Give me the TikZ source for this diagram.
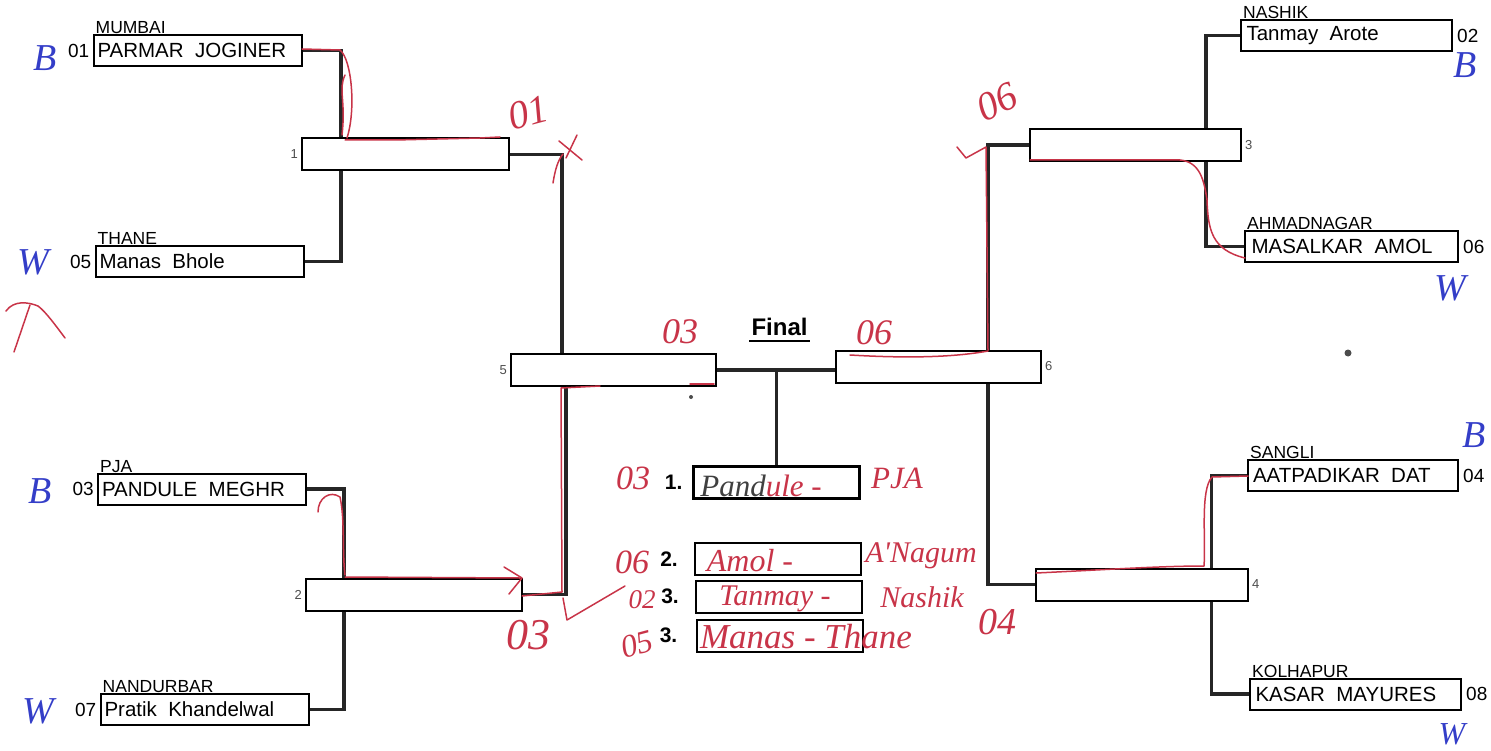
\documentclass[tikz,border=0pt]{standalone}
\usepackage{fontspec}
\setmainfont{Liberation Sans}
\newfontfamily\handfont{Liberation Serif}
\usetikzlibrary{positioning,calc}
\definecolor{pen}{RGB}{200,52,72}
\definecolor{ink}{RGB}{52,62,200}
\tikzset{
        player/.style={draw, line width=2pt, fill=white, minimum width=208pt, minimum height=31pt, inner sep=0pt, align=left, font=\fontsize{20.5}{22}\selectfont},
        round/.style={draw, line width=2pt, fill=white, minimum width=207pt, minimum height=32pt, inner sep=0pt},
        place/.style={draw, line width=2pt, fill=white, minimum width=166pt, minimum height=32pt, inner sep=0pt},
        link/.style={line width=3.6pt, color=black!85},
        city/.style={inner sep=0pt, anchor=south west, font=\fontsize{17.5}{18}\selectfont},
        seed/.style={inner sep=0pt, font=\fontsize{19}{19}\selectfont},
        tag/.style={inner sep=0pt, color=black!70, font=\fontsize{13}{13}\selectfont},
        rank/.style={inner sep=0pt, font=\bfseries\fontsize{21}{21}\selectfont},
        redmark/.style={color=pen, line width=1.5pt, line cap=round, line join=round},
        redtext/.style={inner sep=0pt, color=pen, font=\handfont\itshape\fontsize{27}{27}\selectfont},
        bluetext/.style={inner sep=0pt, color=ink, font=\handfont\itshape\fontsize{38}{38}\selectfont},
        speck/.style={circle, fill=black!70, inner sep=0pt, minimum size=5pt},
}
\newcommand{\entry}[1]{\makebox[200pt][l]{#1}}
\begin{document}
\begin{tikzpicture}[x=1pt, y=-1pt]
        \useasboundingbox (0,0) rectangle (1491,751);

        \node[player] (p01) at (197.5,50.5) {\entry{PARMAR\ \ JOGINER}};
        \node[player] (p05) at (199.5,261.5) {\entry{Manas\ \ Bhole}};
        \node[player] (p03) at (202,489) {\entry{PANDULE\ \ MEGHR}};
        \node[player] (p07) at (204.5,709.5) {\entry{Pratik\ \ Khandelwal}};
        \node[player, minimum width=211pt] (p02) at (1346.5,35.5) {\entry{Tanmay\ \ Arote}};
        \node[player, minimum width=213pt] (p06) at (1351.5,246.5) {\entry{MASALKAR\ \ AMOL}};
        \node[player, minimum width=210pt] (p04) at (1353,475.5) {\entry{AATPADIKAR\ \ DAT}};
        \node[player, minimum width=211pt] (p08) at (1355.5,694) {\entry{KASAR\ \ MAYURES}};

        \node[round] (r1) at (405.5,154.5) {};
        \node[round, minimum width=216pt] (r2) at (414,594.5) {};
        \node[round, minimum width=211pt] (r3) at (1135.5,145) {};
        \node[round, minimum width=212pt] (r4) at (1142,584.5) {};
        \node[round, minimum width=205pt] (r5) at (613.5,370) {};
        \node[round, minimum width=205pt] (r6) at (938.5,366.5) {};

        \node[place, line width=3.6pt] (f1) at (776.5,482.5) {};
        \node[place] (f2) at (778,559) {};
        \node[place] (f3) at (779,596.5) {};
        \node[place] (f4) at (779.5,635.5) {};

        \draw[link] (p01.east) -| ($(r1.north west)!0.19!(r1.north east)$);
        \draw[link] (p05.east) -| ($(r1.south west)!0.19!(r1.south east)$);
        \draw[link] (p03.east) -| ($(r2.north west)!0.18!(r2.north east)$);
        \draw[link] (p07.east) -| ($(r2.south west)!0.18!(r2.south east)$);
        \draw[link] (p02.west) -| ($(r3.north west)!0.83!(r3.north east)$);
        \draw[link] (p06.west) -| ($(r3.south west)!0.83!(r3.south east)$);
        \draw[link] (p04.west) -| ($(r4.north west)!0.825!(r4.north east)$);
        \draw[link] (p08.west) -| ($(r4.south west)!0.825!(r4.south east)$);
        \draw[link] (r1.east) -| ($(r5.north west)!0.25!(r5.north east)$);
        \draw[link] (r2.east) -| ($(r5.south west)!0.27!(r5.south east)$);
        \draw[link] (r3.west) -| ($(r6.north west)!0.74!(r6.north east)$);
        \draw[link] (r4.west) -| ($(r6.south west)!0.74!(r6.south east)$);
        \draw[link] (r5.east) -- (r5.east -| r6.west);
        \draw[link] (f1.north) -- (f1.north |- r5.east);

        \node[city] (c01) at ($(p01.north west)+(3,0)$) {MUMBAI};
        \node[city] (c05) at ($(p05.north west)+(3,0)$) {THANE};
        \node[city] (c03) at ($(p03.north west)+(3,0)$) {PJA};
        \node[city] (c07) at ($(p07.north west)+(3,0)$) {NANDURBAR};
        \node[city] (c02) at ($(p02.north west)+(3,0)$) {NASHIK};
        \node[city] (c06) at ($(p06.north west)+(3,0)$) {AHMADNAGAR};
        \node[city] (c04) at ($(p04.north west)+(3,0)$) {SANGLI};
        \node[city] (c08) at ($(p08.north west)+(3,0)$) {KOLHAPUR};

        \node[seed, left=3pt of p01] (s01) {01};
        \node[seed, left=3pt of p05] (s05) {05};
        \node[seed, left=3pt of p03] (s03) {03};
        \node[seed, left=3pt of p07] (s07) {07};
        \node[seed, right=4pt of p02] (s02) {02};
        \node[seed, right=4pt of p06] (s06) {06};
        \node[seed, right=4pt of p04] (s04) {04};
        \node[seed, right=4pt of p08] (s08) {08};

        \node[tag, left=3pt of r1] (t1) {1};
        \node[tag, left=3pt of r2] (t2) {2};
        \node[tag, right=3pt of r3] (t3) {3};
        \node[tag, right=3pt of r4] (t4) {4};
        \node[tag, left=3pt of r5] (t5) {5};
        \node[tag, right=3pt of r6] (t6) {6};

        \node[rank, left=9pt of f1] (n1) {1.};
        \node[rank, left=16pt of f2] (n2) {2.};
        \node[rank, left=16pt of f3] (n3) {3.};
        \node[rank, left=18pt of f4] (n4) {3.};
        \node[inner sep=0pt, font=\bfseries\fontsize{24}{24}\selectfont] (final) at (779.5,327) {Final};
        \draw[line width=2pt] (749,341) -- (810,341);

        \node[bluetext] (b01) at (45,58) {B};
        \node[bluetext] (b05) at (33,262) {W};
        \node[bluetext] (b03) at (40,491) {B};
        \node[bluetext] (b07) at (38,711) {W};
        \node[bluetext] (b02) at (1465,65) {B};
        \node[bluetext] (b06) at (1450,288) {W};
        \node[bluetext] (b04) at (1474,435) {B};
        \node[bluetext, font=\handfont\itshape\fontsize{32}{32}\selectfont] (b08) at (1452,734) {W};

        \node[redtext, rotate=15, font=\handfont\itshape\fontsize{40}{40}\selectfont] (h1) at (528,113) {01};
        \node[redtext, rotate=25, font=\handfont\itshape\fontsize{40}{40}\selectfont] (h2) at (997,102) {06};
        \node[redtext, font=\handfont\itshape\fontsize{36}{36}\selectfont] (h3) at (680,332) {03};
        \node[redtext, font=\handfont\itshape\fontsize{36}{36}\selectfont] (h4) at (874,333) {06};
        \node[redtext, font=\handfont\itshape\fontsize{44}{44}\selectfont] (h5) at (528,635) {03};
        \node[redtext, font=\handfont\itshape\fontsize{34}{34}\selectfont] (h6) at (633,478) {03};
        \node[redtext, font=\handfont\itshape\fontsize{34}{34}\selectfont] (h7) at (632,562) {06};
        \node[redtext] (h8) at (642,600) {02};
        \node[redtext, rotate=15, font=\handfont\itshape\fontsize{32}{32}\selectfont] (h9) at (637,644) {05};
        \node[redtext, font=\handfont\itshape\fontsize{38}{38}\selectfont] (h10) at (997,622) {04};

        \node[redtext, font=\handfont\itshape\fontsize{31}{31}\selectfont] (w1) at (761,486) {\textcolor{black!75}{Pand}ule -};
        \node[redtext, font=\handfont\itshape\fontsize{31}{31}\selectfont] (w2) at (897,478) {PJA};
        \node[redtext, font=\handfont\itshape\fontsize{32}{32}\selectfont] (w3) at (750,561) {Amol -};
        \node[redtext, font=\handfont\itshape\fontsize{30}{30}\selectfont] (w4) at (921,556) {A'Nagum};
        \node[redtext, font=\handfont\itshape\fontsize{30}{30}\selectfont] (w5) at (775,599) {Tanmay -};
        \node[redtext, font=\handfont\itshape\fontsize{30}{30}\selectfont] (w6) at (922,597) {Nashik};
        \node[redtext, font=\handfont\itshape\fontsize{35}{35}\selectfont] (w7) at (806,637) {Manas - Thane};

        \node[speck, minimum size=4pt] (d1) at (691,397) {};
        \node[speck, minimum size=7pt] (d2) at (1348,353) {};

        \draw[redmark] (302,49) -- (340,50) .. controls (352,60) and (356,110) .. (347,138);
        \draw[redmark] (342,135) .. controls (346,100) and (338,90) .. (345,75);
        \draw[redmark] (345,140) -- (395,140) -- (480,138) -- (500,137);
        \draw[redmark] (553,183) .. controls (555,170) and (558,160) .. (563,154);
        \draw[redmark] (559,141) -- (582,160);
        \draw[redmark] (577,135) -- (566,158);
        \draw[redmark] (6,311) .. controls (14,300) and (28,302) .. (38,306) .. controls (46,312) and (56,326) .. (65,338);
        \draw[redmark] (30,305) -- (14,352);
        \draw[redmark] (318,512) .. controls (318,498) and (330,490) .. (340,497) .. controls (345,520) and (342,550) .. (345,575);
        \draw[redmark] (345,577) -- (520,578);
        \draw[redmark] (504,567) -- (522,578) -- (509,594);
        \draw[redmark] (522,596) -- (562,592) -- (561,388) -- (600,386);
        \draw[redmark] (690,384) -- (714,384);
        \draw[redmark] (563,598) -- (567,620) -- (625,586);
        \draw[redmark] (1030,160) -- (1180,160) .. controls (1200,162) and (1204,180) .. (1207,200) .. controls (1208,230) and (1212,250) .. (1245,258);
        \draw[redmark] (957,147) -- (966,158) -- (986,147) -- (988,350);
        \draw[redmark] (850,355) .. controls (900,358) and (950,358) .. (988,351);
        \draw[redmark] (1036,573) .. controls (1100,570) and (1160,566) .. (1204,566) .. controls (1206,540) and (1200,490) .. (1212,477) -- (1248,476);
\end{tikzpicture}
\end{document}
